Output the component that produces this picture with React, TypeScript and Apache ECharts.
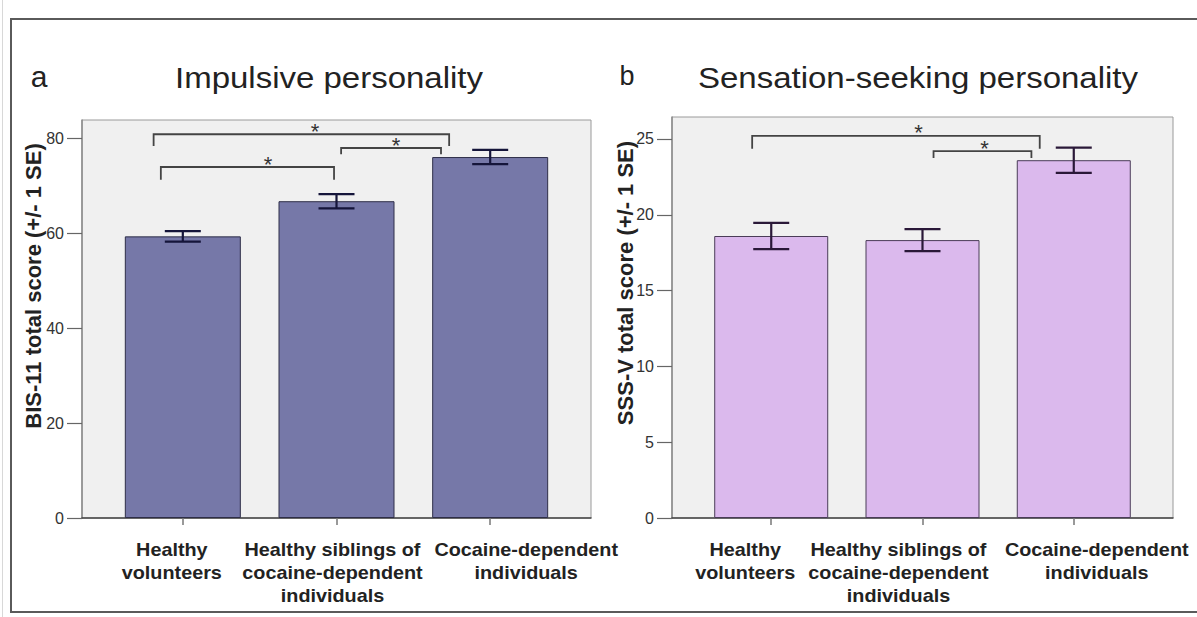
import React, { useEffect, useRef } from 'react';
import * as echarts from 'echarts';

// ---- data ----
const categories = [
  'Healthy\nvolunteers',
  'Healthy siblings of\ncocaine-dependent\nindividuals',
  'Cocaine-dependent\nindividuals',
];
const bisMeans = [59.3, 66.7, 76.0];
const bisSE = [1.1, 1.5, 1.5];
const sssMeans = [18.6, 18.33, 23.6];
const sssSE = [0.86, 0.73, 0.83];
// significance brackets: [x start, x end, bracket level, leg bottom, star x]
const bisBrackets = [
  [-0.19, 1.733, 80.8, 78.3, 0.86],
  [1.03, 1.68, 77.9, 76.6, 1.388],
  [-0.143, 0.984, 73.9, 71.2, 0.554],
];
const sssBrackets = [
  [-0.126, 1.775, 25.2, 24.35, 0.974],
  [1.073, 1.72, 24.2, 23.75, 1.41],
];
const bisYTicks = [0, 20, 40, 60, 80];
const sssYTicks = [0, 5, 10, 15, 20, 25];
const bisYInterval = 20;
const sssYInterval = 5;
const bisYMax = 83.8;
const sssYMax = 26.45;
const categoryIndex = [0, 1, 2];

const FONT = '"Liberation Sans", Arial, Helvetica, sans-serif';

// label horizontal offsets (px) relative to tick, per panel
const labelShiftA = [-11, -4, 36];
const labelShiftB = [-26, -24, 23];

function xAxisFor(gridIndex: number) {
  return {
    type: 'value',
    gridIndex,
    min: -0.656,
    max: 2.656,
    splitLine: { show: false },
    axisLine: { show: true, onZero: false, lineStyle: { color: '#444', width: 1.5 } },
    axisTick: {
      show: true,
      customValues: categoryIndex,
      length: 7,
      lineStyle: { color: '#777', width: 1.5 },
    },
    axisLabel: { show: false },
  };
}

function yAxisFor(gridIndex: number, max: number, interval: number, ticks: number[]) {
  return {
    type: 'value',
    gridIndex,
    min: 0,
    max,
    interval,
    splitLine: { show: false },
    axisLine: { show: true, onZero: false, lineStyle: { color: '#8a8a8a', width: 1.5 } },
    axisTick: { show: true, customValues: ticks, length: 15, lineStyle: { color: '#666', width: 1.2 } },
    axisLabel: {
      showMaxLabel: false,
      fontFamily: FONT,
      fontSize: 16,
      color: '#333',
      margin: 18,
    },
  };
}

function errorSeries(xi: number, means: number[], se: number[], color: string) {
  return {
    type: 'custom',
    xAxisIndex: xi,
    yAxisIndex: xi,
    z: 5,
    encode: { x: 0, y: [1, 2] },
    data: means.map((m, i) => [i, m - se[i], m + se[i]]),
    renderItem: (params: any, api: any) => {
      const x = api.value(0);
      const top = api.coord([x, api.value(2)]);
      const bot = api.coord([x, api.value(1)]);
      const hw = 18;
      const st = { stroke: color, lineWidth: 2.2 };
      return {
        type: 'group',
        children: [
          { type: 'line', shape: { x1: top[0], y1: top[1], x2: bot[0], y2: bot[1] }, style: st },
          { type: 'line', shape: { x1: top[0] - hw, y1: top[1], x2: top[0] + hw, y2: top[1] }, style: st },
          { type: 'line', shape: { x1: bot[0] - hw, y1: bot[1], x2: bot[0] + hw, y2: bot[1] }, style: st },
        ],
      };
    },
  };
}

function bracketSeries(xi: number, brackets: number[][]) {
  return {
    type: 'custom',
    xAxisIndex: xi,
    yAxisIndex: xi,
    z: 6,
    encode: { x: [0, 1], y: [2, 3] },
    data: brackets,
    renderItem: (params: any, api: any) => {
      const x1 = api.value(0), x2 = api.value(1), yt = api.value(2), yb = api.value(3), sx = api.value(4);
      const a = api.coord([x1, yb]);
      const b = api.coord([x1, yt]);
      const c = api.coord([x2, yt]);
      const d = api.coord([x2, yb]);
      const s = api.coord([sx, yt]);
      return {
        type: 'group',
        children: [
          {
            type: 'polyline',
            shape: { points: [a, b, c, d] },
            style: { stroke: '#444', lineWidth: 1.8, fill: 'none' },
          },
          {
            type: 'text',
            x: s[0],
            y: s[1] - 3,
            style: {
              text: '*',
              font: `22px ${FONT}`,
              fill: '#333',
              align: 'center',
              verticalAlign: 'middle',
            },
          },
        ],
      };
    },
  };
}

export default function App() {
  const ref = useRef<HTMLDivElement>(null);
  useEffect(() => {
    if (!ref.current) return;
    const chart = echarts.init(ref.current, undefined, { renderer: 'svg' });
    const option: any = {
      animation: false,
      backgroundColor: '#ffffff',
      grid: [
        {
          left: 82, top: 120, width: 509, height: 398,
          show: true, backgroundColor: '#f0f0f0', borderColor: '#9a9a9a', borderWidth: 1,
        },
        {
          left: 672, top: 117, width: 501, height: 401,
          show: true, backgroundColor: '#f0f0f0', borderColor: '#9a9a9a', borderWidth: 1,
        },
      ],
      xAxis: [xAxisFor(0), xAxisFor(1)],
      yAxis: [
        yAxisFor(0, bisYMax, bisYInterval, bisYTicks),
        yAxisFor(1, sssYMax, sssYInterval, sssYTicks),
      ],
      series: [
        {
          type: 'bar',
          xAxisIndex: 0,
          yAxisIndex: 0,
          barWidth: 116,
          data: bisMeans.map((m, i) => [i, m]),
          itemStyle: { color: '#7678a8', borderColor: '#2e2e48', borderWidth: 1 },
        },
        {
          type: 'bar',
          xAxisIndex: 1,
          yAxisIndex: 1,
          barWidth: 114,
          data: sssMeans.map((m, i) => [i, m]),
          itemStyle: { color: '#dbb9ed', borderColor: '#4a3c58', borderWidth: 1 },
        },
        errorSeries(0, bisMeans, bisSE, '#15153a'),
        errorSeries(1, sssMeans, sssSE, '#2a1838'),
        bracketSeries(0, bisBrackets),
        bracketSeries(1, sssBrackets),
      ],
    };
    chart.setOption(option);

    const labelEls: any[] = [];
    [labelShiftA, labelShiftB].forEach((shifts, gi) => {
      categoryIndex.forEach((i) => {
        const px = chart.convertToPixel({ xAxisIndex: gi }, i) as number;
        const py = chart.convertToPixel({ yAxisIndex: gi }, 0) as number;
        labelEls.push({
          type: 'text',
          x: px + shifts[i],
          y: py + 20,
          scaleX: 1.1,
          style: {
            text: categories[i],
            font: `bold 18px ${FONT}`,
            lineHeight: 23,
            fill: '#222',
            align: 'center',
            verticalAlign: 'top',
          },
        });
      });
    });

    chart.setOption({
      graphic: [
        { type: 'line', shape: { x1: 2.5, y1: 0, x2: 2.5, y2: 617 }, style: { stroke: '#d8d8d8', lineWidth: 1 } },
        {
          type: 'rect',
          shape: { x: 11, y: 19, width: 1200, height: 593 },
          style: { fill: 'none', stroke: '#5a5a5a', lineWidth: 2 },
        },
        { type: 'text', x: 39, y: 76, style: { text: 'a', font: `30px ${FONT}`, fill: '#222', align: 'center', verticalAlign: 'middle' } },
        { type: 'text', x: 627, y: 76, style: { text: 'b', font: `27px ${FONT}`, fill: '#222', align: 'center', verticalAlign: 'middle' } },
        { type: 'text', x: 329, y: 78, scaleX: 1.1, style: { text: 'Impulsive personality', font: `30px ${FONT}`, fill: '#222', align: 'center', verticalAlign: 'middle' } },
        { type: 'text', x: 918, y: 78, scaleX: 1.1, style: { text: 'Sensation-seeking personality', font: `30px ${FONT}`, fill: '#222', align: 'center', verticalAlign: 'middle' } },
        {
          type: 'text', x: 33, y: 286, rotation: Math.PI / 2,
          style: { text: 'BIS-11 total score (+/- 1 SE)', font: `bold 22px ${FONT}`, fill: '#222', align: 'center', verticalAlign: 'middle' },
        },
        {
          type: 'text', x: 625, y: 283, rotation: Math.PI / 2,
          style: { text: 'SSS-V total score (+/- 1 SE)', font: `bold 22px ${FONT}`, fill: '#222', align: 'center', verticalAlign: 'middle' },
        },
        ...labelEls,
      ],
    });
    return () => chart.dispose();
  }, []);
  return (
    <div
      ref={ref}
      style={{ position: 'absolute', left: 0, top: 0, width: 1197, height: 617, background: '#fff' }}
    />
  );
}
